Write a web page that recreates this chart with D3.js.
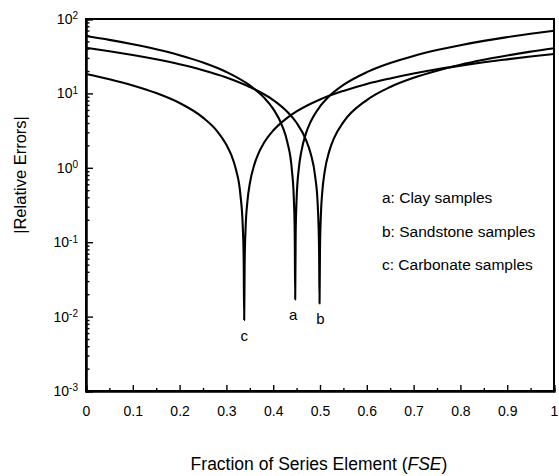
<!DOCTYPE html>
<html>
<head>
<meta charset="utf-8">
<script src="https://cdn.jsdelivr.net/npm/d3@7"></script>
<style>
  html, body { margin: 0; padding: 0; background: #fff; }
  svg { display: block; font-family: "Liberation Sans", Arial, Helvetica, sans-serif; }
</style>
</head>
<body>
<svg id="chart" width="559" height="476"></svg>
<script>
// Tick positions and labels
const fseTicks = [0, 0.1, 0.2, 0.3, 0.4, 0.5, 0.6, 0.7, 0.8, 0.9, 1];
const fseTickLabels = ["0", "0.1", "0.2", "0.3", "0.4", "0.5", "0.6", "0.7", "0.8", "0.9", "1"];
const fseMinorTicks = [0.05, 0.15, 0.25, 0.35, 0.45, 0.55, 0.65, 0.75, 0.85, 0.95];
const errDecadeExps = [2, 1, 0, -1, -2, -3];

// a: Clay samples
const clayFse = [0, 0.05, 0.1, 0.15, 0.2, 0.25, 0.3, 0.35, 0.38, 0.4, 0.42, 0.43, 0.44, 0.444, 0.446, 0.447,
  0.448, 0.45, 0.455, 0.46, 0.47, 0.48, 0.5, 0.52, 0.55, 0.6, 0.65, 0.7, 0.75, 0.8, 0.85, 0.9, 0.95, 1];
const clayErr = [59.0, 52.4, 45.8, 39.2, 32.6, 26.0, 19.4, 12.8, 8.84, 6.20, 3.56, 2.24, 0.924, 0.396, 0.132, 0.017,
  0.126, 0.378, 1.01, 1.64, 2.90, 4.16, 6.68, 9.20, 13.0, 19.3, 25.6, 31.9, 38.2, 44.5, 50.8, 57.1, 63.4, 69.6];

// b: Sandstone samples
const sandFse = [0, 0.05, 0.1, 0.15, 0.2, 0.25, 0.3, 0.35, 0.4, 0.43, 0.45, 0.47, 0.48, 0.49, 0.495, 0.498, 0.499,
  0.5, 0.502, 0.505, 0.51, 0.52, 0.53, 0.55, 0.6, 0.65, 0.7, 0.75, 0.8, 0.85, 0.9, 0.95, 1];
const sandErr = [41.0, 36.9, 32.8, 28.7, 24.6, 20.5, 16.4, 12.2, 8.14, 5.67, 4.03, 2.38, 1.56, 0.74, 0.329, 0.082, 0.015,
  0.081, 0.242, 0.484, 0.887, 1.69, 2.50, 4.11, 8.14, 12.2, 16.2, 20.2, 24.3, 28.3, 32.3, 36.4, 40.4];

// c: Carbonate samples
const carbFse = [0, 0.05, 0.1, 0.15, 0.2, 0.25, 0.28, 0.3, 0.31, 0.32, 0.33, 0.335, 0.337, 0.338,
  0.339, 0.341, 0.345, 0.35, 0.36, 0.37, 0.38, 0.4, 0.43, 0.45, 0.5, 0.55, 0.6, 0.65, 0.7, 0.75, 0.8, 0.85, 0.9, 0.95, 1];
const carbErr = [18.2, 15.5, 12.8, 10.1, 7.42, 4.73, 3.12, 2.04, 1.51, 0.968, 0.430, 0.161, 0.054, 0.009,
  0.051, 0.153, 0.358, 0.613, 1.12, 1.64, 2.15, 3.17, 4.70, 5.72, 8.28, 10.8, 13.4, 15.9, 18.5, 21.1, 23.6, 26.2, 28.7, 31.3, 33.8];

const seriesTags = ["a", "b", "c"];
const legendTexts = ["a: Clay samples", "b: Sandstone samples", "c: Carbonate samples"];

const svg = d3.select("#chart");
const plot = { left: 86, right: 554, top: 19, bottom: 391 };

const x = d3.scaleLinear().domain([0, 1]).range([plot.left, plot.right]);
const y = d3.scaleLog().domain([1e-3, 1e2]).range([plot.bottom, plot.top]);

// Frame
svg.append("rect")
  .attr("x", plot.left).attr("y", plot.top)
  .attr("width", plot.right - plot.left).attr("height", plot.bottom - plot.top)
  .attr("fill", "none").attr("stroke", "#000").attr("stroke-width", 2);

// Bottom axis: major + minor ticks pointing inward
const xAxis = svg.append("g")
  .attr("transform", `translate(0,${plot.bottom})`)
  .call(d3.axisBottom(x).tickValues(fseTicks).tickSize(-6).tickPadding(15)
    .tickFormat((d, i) => fseTickLabels[i]));
svg.append("g")
  .attr("transform", `translate(0,${plot.bottom})`)
  .call(d3.axisBottom(x).tickValues(fseMinorTicks).tickSize(-3).tickFormat(""));

// Left axis: decades + log minor ticks pointing inward
const decades = errDecadeExps.map(e => Math.pow(10, e));
const minors = [];
for (let e = -3; e < 2; e++) for (let m = 2; m <= 9; m++) minors.push(m * Math.pow(10, e));
const yAxis = svg.append("g")
  .attr("transform", `translate(${plot.left},0)`)
  .call(d3.axisLeft(y).tickValues(decades).tickSize(-7).tickFormat(""));
svg.append("g")
  .attr("transform", `translate(${plot.left},0)`)
  .call(d3.axisLeft(y).tickValues(minors).tickSize(-3.5).tickFormat(""));

svg.selectAll(".domain").attr("stroke", "#000").attr("stroke-width", 2);
svg.selectAll(".tick line").attr("stroke", "#000").attr("stroke-width", 1.4);

xAxis.selectAll(".tick text")
  .attr("font-size", 14).attr("fill", "#000")
  .attr("font-family", "Liberation Sans, Arial, sans-serif");

// Decade labels 10^n
yAxis.selectAll(".tick").each(function (d, i) {
  const t = d3.select(this).append("text")
    .attr("x", -8).attr("dy", "0.32em")
    .attr("text-anchor", "end").attr("fill", "#000")
    .attr("font-size", 14);
  t.append("tspan").text("10");
  t.append("tspan").attr("dy", "-0.45em").attr("font-size", 10).text(String(errDecadeExps[i]));
});

// Curves
const line = d3.line()
  .x(d => x(d[0]))
  .y(d => y(d[1]))
  .curve(d3.curveMonotoneX);

const series = [
  [clayFse, clayErr],
  [sandFse, sandErr],
  [carbFse, carbErr]
];
series.forEach(([fs, er]) => {
  svg.append("path")
    .datum(fs.map((f, i) => [f, er[i]]))
    .attr("fill", "none")
    .attr("stroke", "#000")
    .attr("stroke-width", 2.1)
    .attr("stroke-linejoin", "round")
    .attr("d", line);
});

// Tags under each minimum
const tagShift = [-2, 1, 0];
series.forEach(([fs, er], i) => {
  const k = d3.minIndex(er);
  svg.append("text")
    .attr("x", x(fs[k]) + tagShift[i])
    .attr("y", y(er[k]) + 21)
    .attr("text-anchor", "middle")
    .attr("font-size", 15)
    .text(seriesTags[i]);
});

// Legend
legendTexts.forEach((t, i) => {
  svg.append("text")
    .attr("x", 382).attr("y", 203 + i * 33.5)
    .attr("font-size", 15.5)
    .text(t);
});

// Axis titles
const xt = svg.append("text")
  .attr("x", (plot.left + plot.right) / 2 - 1).attr("y", 470)
  .attr("text-anchor", "middle").attr("font-size", 17.5);
xt.append("tspan").text("Fraction of Series Element (");
xt.append("tspan").attr("font-style", "italic").text("FSE");
xt.append("tspan").text(")");

svg.append("text")
  .attr("transform", "translate(26,175) rotate(-90)")
  .attr("text-anchor", "middle").attr("font-size", 16.5)
  .text("|Relative Errors|");
</script>
</body>
</html>
